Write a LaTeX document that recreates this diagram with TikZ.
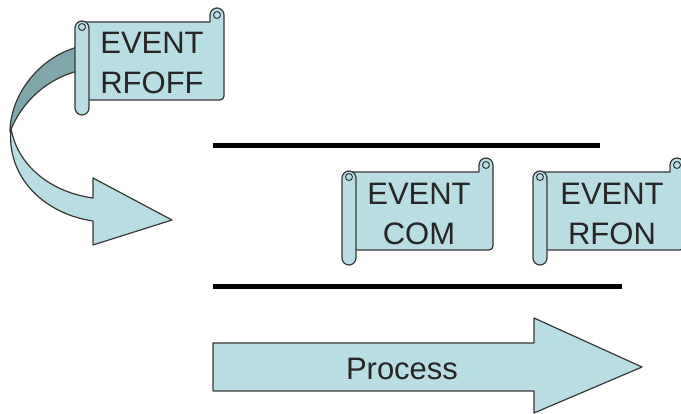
\documentclass[tikz,border=0pt]{standalone}
\usepackage{fontspec}
\setmainfont{Liberation Sans}
\definecolor{scrollfill}{RGB}{184,222,227}
\definecolor{ribbonback}{RGB}{128,168,172}
\definecolor{edgegray}{RGB}{55,55,55}
\tikzset{
  shapefill/.style={fill=scrollfill, draw=edgegray, line width=1.2pt, line join=round},
  backfill/.style={fill=ribbonback, draw=edgegray, line width=1.2pt, line join=round},
  scrolltext/.style={font=\fontsize{31}{31}\selectfont, text=black!85, anchor=base, inner sep=0pt},
  barline/.style={line width=5pt, black},
}
% scroll banner: #1 roll left, #2 body right, #3 body top, #4 body bottom
\newcommand\drawscroll[4]{%
  \path[shapefill] (#1+7,#3) -- (#2-14,#3) -- (#2-14,#3-7)
    arc[start angle=180,end angle=360,radius=7] -- (#2,#4-4)
    arc[start angle=0,end angle=90,radius=4] -- (#1+7,#4) -- cycle;
  \path[shapefill, line width=1pt] (#2-7,#3-7) circle[radius=3.5];
  \path[shapefill, rounded corners=7pt] (#1,#3-1) rectangle (#1+14,#4+15);
  \path[shapefill, line width=1pt] (#1+7,#3+5) circle[radius=3.5];
}
\begin{document}
\begin{tikzpicture}[x=1pt,y=-1pt]
\useasboundingbox (0,0) rectangle (681,414);

% curved arrow leaving the first banner
\path[backfill] (82,46) .. controls (40,55) and (10,95) .. (10,132)
  .. controls (20,105) and (45,78) .. (82,70) -- cycle;
\path[shapefill] (11,128) .. controls (6,178) and (45,214) .. (93,221)
  -- (93,245) -- (172,220) -- (93,178) -- (93,198)
  .. controls (50,192) and (17,165) .. (11,128) -- cycle;

% banners
\drawscroll{75}{224}{22}{100}
\node[scrolltext] (offA) at (152,54) {EVENT};
\node[scrolltext] (offB) at (152,94) {RFOFF};

\drawscroll{342}{493}{172}{250}
\node[scrolltext] (comA) at (419,205) {EVENT};
\node[scrolltext] (comB) at (419,245) {COM};

\drawscroll{533}{684}{172}{250}
\node[scrolltext] (onA) at (612,205) {EVENT};
\node[scrolltext] (onB) at (612,245) {RFON};

% bars framing the middle row
\draw[barline] (213,146) -- (600,146);
\draw[barline] (213,287) -- (622,287);

% process arrow
\path[shapefill] (213,343) -- (534,343) -- (534,318) -- (642,367)
  -- (534,413) -- (534,391) -- (213,391) -- cycle;
\node[scrolltext] (proc) at (402,380) {Process};
\end{tikzpicture}
\end{document}
